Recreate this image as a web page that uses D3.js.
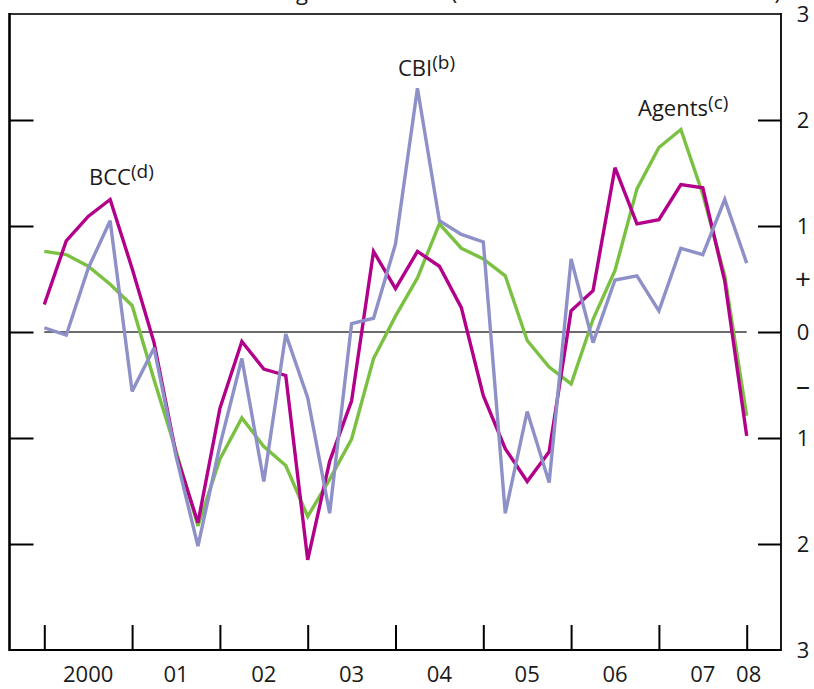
<!DOCTYPE html>
<html>
<head>
<meta charset="utf-8">
<script src="https://cdn.jsdelivr.net/npm/d3@7"></script>
<style>
  body { margin: 0; background: #fff; }
  text { font-family: "Open Sans", "Noto Sans", sans-serif; fill: #1a1a1a; }
</style>
</head>
<body>
<div id="chart"></div>
<script>
// quarters, 2000 Q1 to 2008 Q1
var quarters = ["2000Q1","2000Q2","2000Q3","2000Q4","2001Q1","2001Q2","2001Q3","2001Q4",
    "2002Q1","2002Q2","2002Q3","2002Q4","2003Q1","2003Q2","2003Q3","2003Q4",
    "2004Q1","2004Q2","2004Q3","2004Q4","2005Q1","2005Q2","2005Q3","2005Q4",
    "2006Q1","2006Q2","2006Q3","2006Q4","2007Q1","2007Q2","2007Q3","2007Q4","2008Q1"];

var bcc = [0.26, 0.86, 1.09, 1.25, 0.6, -0.1, -1.15, -1.8, -0.72, -0.09, -0.35, -0.41,
    -2.15, -1.22, -0.65, 0.76, 0.41, 0.76, 0.62, 0.23, -0.6, -1.1, -1.41, -1.13,
    0.2, 0.39, 1.55, 1.02, 1.06, 1.39, 1.36, 0.48, -0.98];
var cbi = [0.04, -0.03, 0.6, 1.05, -0.56, -0.15, -1.17, -2.02, -1.07, -0.25, -1.41, -0.02,
    -0.62, -1.71, 0.08, 0.13, 0.83, 2.3, 1.05, 0.92, 0.85, -1.71, -0.75, -1.42,
    0.69, -0.1, 0.49, 0.53, 0.2, 0.79, 0.73, 1.25, 0.65];
var agents = [0.76, 0.73, 0.62, 0.45, 0.25, -0.45, -1.12, -1.83, -1.2, -0.81, -1.08, -1.26,
    -1.74, -1.39, -1.01, -0.25, 0.15, 0.51, 1.02, 0.79, 0.69, 0.53, -0.08, -0.33,
    -0.49, 0.12, 0.58, 1.35, 1.74, 1.91, 1.3, 0.53, -0.79];

var yearLabels = ["2000","01","02","03","04","05","06","07","08"];
var yTickLabels = [[3,"3"],[2,"2"],[1,"1"],[0.5,"+"],[0,"0"],[-0.5,"\u2013"],[-1,"1"],[-2,"2"],[-3,"3"]];
var unitLabel = "Differences from averages since 1999 (number of standard deviations)";

var svg = d3.select("#chart").append("svg")
    .attr("width", 814)
    .attr("height", 689);

var plotLeft = 9.5, plotRight = 781, plotTop = 14, plotBottom = 650;

var xScale = d3.scalePoint().domain(quarters).range([44.3, 746.7]);
var yScale = d3.scaleLinear().domain([-3, 3]).range([plotBottom, plotTop]);

// unit label, sits above the page edge as in the source (only descenders show)
svg.append("text")
    .attr("x", plotRight)
    .attr("y", 0)
    .attr("text-anchor", "end")
    .style("font-size", "22px")
    .text(unitLabel);

// zero line, spans the data
svg.append("line")
    .attr("x1", xScale(quarters[0])).attr("x2", xScale(quarters[quarters.length - 1]))
    .attr("y1", yScale(0)).attr("y2", yScale(0))
    .style("stroke", "#3a3a3a")
    .style("stroke-width", 1.6);

// inner ticks
var leftAxis = svg.append("g")
    .attr("transform", "translate(" + plotLeft + ",0)")
    .call(d3.axisRight(yScale).tickValues([2, 1, 0, -1, -2]).tickSize(24).tickFormat(""));
var rightAxis = svg.append("g")
    .attr("transform", "translate(" + plotRight + ",0)")
    .call(d3.axisLeft(yScale).tickValues([2, 1, 0, -1, -2]).tickSize(23).tickFormat(""));
var yearTicks = quarters.filter(function(q) { return q.slice(4) == "Q1"; });
var bottomAxis = svg.append("g")
    .attr("transform", "translate(0," + plotBottom + ")")
    .call(d3.axisTop(xScale).tickValues(yearTicks).tickSize(25).tickFormat(""));

[leftAxis, rightAxis, bottomAxis].forEach(function(a) {
    a.select(".domain").remove();
    a.selectAll(".tick line").style("stroke", "#000").style("stroke-width", 2);
});

// frame
svg.append("line").attr("x1", plotLeft).attr("x2", plotRight).attr("y1", plotTop).attr("y2", plotTop)
    .style("stroke", "#333").style("stroke-width", 2.2);
svg.append("line").attr("x1", plotLeft).attr("x2", plotRight).attr("y1", plotBottom).attr("y2", plotBottom)
    .style("stroke", "#000").style("stroke-width", 2);
svg.append("line").attr("x1", plotLeft).attr("x2", plotLeft).attr("y1", plotTop - 1).attr("y2", plotBottom + 1)
    .style("stroke", "#000").style("stroke-width", 2.6);
svg.append("line").attr("x1", plotRight).attr("x2", plotRight).attr("y1", plotTop - 1).attr("y2", plotBottom + 1)
    .style("stroke", "#000").style("stroke-width", 1.8);

// right hand labels; the + and – signs are set larger
svg.append("g").selectAll("text")
    .data(yTickLabels)
    .enter()
    .append("text")
    .attr("x", 803)
    .attr("y", function(d) { return Math.max(yScale(d[0]), 13); })
    .attr("dy", "0.36em")
    .attr("text-anchor", "middle")
    .style("font-size", function(d) { return d[0] % 1 ? "28px" : "22px"; })
    .text(function(d) { return d[1]; });

// year labels, centred on each year, last one on its only quarter
svg.append("g").selectAll("text")
    .data(yearLabels)
    .enter()
    .append("text")
    .attr("x", function(d, k) {
        var i = Math.min(k * 4 + 2, quarters.length - 1);
        return xScale(quarters[i]) + (k == yearLabels.length - 1 ? 2 : 0);
    })
    .attr("y", 682)
    .attr("text-anchor", "middle")
    .style("font-size", "22px")
    .text(function(d) { return d; });

var line = d3.line()
    .x(function(d, i) { return xScale(quarters[i]); })
    .y(function(d) { return yScale(d); });

function drawSeries(values, color) {
    svg.append("path")
        .datum(values)
        .attr("d", line)
        .style("fill", "none")
        .style("stroke", color)
        .style("stroke-width", 3.4)
        .style("stroke-linejoin", "miter")
        .style("stroke-miterlimit", 3);
}

drawSeries(agents, "rgb(122,193,66)");
drawSeries(bcc, "rgb(178,0,138)");
drawSeries(cbi, "rgb(142,144,200)");

// series labels with superscript notes
function seriesLabel(x, y, name, note) {
    var t = svg.append("text")
        .attr("x", x)
        .attr("y", y)
        .style("font-size", "22px");
    t.append("tspan").text(name);
    t.append("tspan").attr("dy", -7).style("font-size", "19px").text("(" + note + ")");
}

seriesLabel(89, 185, "BCC", "d");
seriesLabel(398, 76, "CBI", "b");
seriesLabel(638, 116, "Agents", "c");
</script>
</body>
</html>
